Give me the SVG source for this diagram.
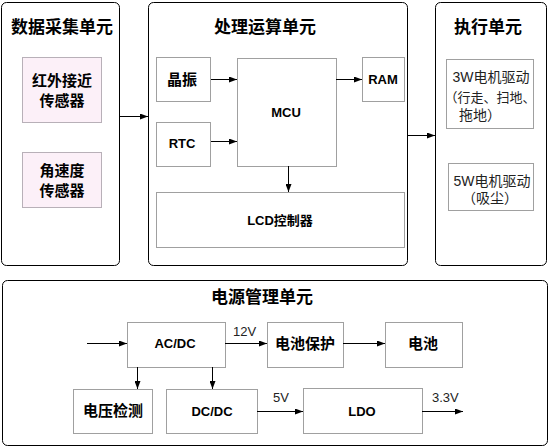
<svg xmlns="http://www.w3.org/2000/svg" width="549" height="448" viewBox="0 0 549 448">
<defs>
<marker id="ah" markerWidth="8" markerHeight="6" refX="8" refY="3" orient="auto" markerUnits="userSpaceOnUse">
<path d="M0,0 L8,3 L0,6 Z" fill="#000"/>
</marker>
<style>
.panel{fill:#fff;stroke:#000;stroke-width:1}
.box{fill:#fff;stroke:#a0a0a0;stroke-width:1}
.pink{fill:#fcf0f8;stroke:#b8b0b8;stroke-width:1}
.title{font-family:"Liberation Sans","Noto Sans CJK SC",sans-serif;font-size:17px;font-weight:bold;fill:#000;text-anchor:middle}
.lbl{font-family:"Liberation Sans","Noto Sans CJK SC",sans-serif;font-size:15px;font-weight:bold;fill:#000;text-anchor:middle}
.lbs{font-family:"Liberation Sans","Noto Sans CJK SC",sans-serif;font-size:13px;font-weight:bold;fill:#000;text-anchor:middle}
.nt{font-family:"Liberation Sans","Noto Sans CJK SC",sans-serif;font-size:14px;fill:#222;text-anchor:middle}
.vl{font-family:"Liberation Sans",sans-serif;font-size:13px;fill:#222}
.c{stroke:#000;stroke-width:1;fill:none;marker-end:url(#ah)}
</style>
</defs>
<rect width="549" height="448" fill="#fff"/>

<g id="panel-data">
<rect class="panel" x="1.5" y="2.5" width="118" height="263" rx="5"/>
<text class="title" x="62" y="33">数据采集单元</text>
</g>
<g id="ir-sensor">
<rect class="pink" x="22.5" y="57.5" width="79" height="65"/>
<text class="lbl" x="62" y="86">红外接近</text>
<text class="lbl" x="62" y="106">传感器</text>
</g>
<g id="gyro-sensor">
<rect class="pink" x="22.5" y="152.5" width="79" height="55"/>
<text class="lbl" x="62" y="176">角速度</text>
<text class="lbl" x="62" y="196">传感器</text>
</g>

<g id="panel-proc">
<rect class="panel" x="148.5" y="2.5" width="259" height="263" rx="5"/>
<text class="title" x="265" y="33">处理运算单元</text>
</g>
<g id="crystal">
<rect class="box" x="156.5" y="57.5" width="54" height="44"/>
<text class="lbl" x="182" y="85">晶振</text>
</g>
<g id="rtc">
<rect class="box" x="156.5" y="122.5" width="54" height="44"/>
<text class="lbs" x="182" y="148">RTC</text>
</g>
<g id="mcu">
<rect class="box" x="237.5" y="58.5" width="99" height="108"/>
<text class="lbs" x="286" y="117">MCU</text>
</g>
<g id="ram">
<rect class="box" x="362.5" y="57.5" width="42" height="44"/>
<text class="lbs" x="383" y="84">RAM</text>
</g>
<g id="lcd">
<rect class="box" x="156.5" y="192.5" width="248" height="55"/>
<text class="lbs" x="280" y="225">LCD控制器</text>
</g>

<g id="panel-exec">
<rect class="panel" x="435.5" y="2.5" width="111" height="263" rx="5"/>
<text class="title" x="488" y="33">执行单元</text>
</g>
<g id="motor3w">
<rect class="box" x="446.5" y="59.5" width="87" height="69"/>
<text class="nt" x="491" y="82">3W电机驱动</text>
<text class="nt" x="490" y="102" style="font-size:13px">（行走、扫地、</text>
<text class="nt" x="480" y="120">拖地）</text>
</g>
<g id="motor5w">
<rect class="box" x="448.5" y="163.5" width="85" height="47"/>
<text class="nt" x="492" y="186">5W电机驱动</text>
<text class="nt" x="490" y="203">（吸尘）</text>
</g>

<g id="panel-power">
<rect class="panel" x="2.5" y="280.5" width="545" height="165" rx="5"/>
<text class="title" x="262" y="303">电源管理单元</text>
</g>
<g id="acdc">
<rect class="box" x="127.5" y="322.5" width="98" height="45"/>
<text class="lbs" x="175" y="348">AC/DC</text>
</g>
<g id="batprot">
<rect class="box" x="267.5" y="322.5" width="76" height="45"/>
<text class="lbl" x="305" y="349">电池保护</text>
</g>
<g id="battery">
<rect class="box" x="385.5" y="322.5" width="77" height="45"/>
<text class="lbl" x="423" y="349">电池</text>
</g>
<g id="vdetect">
<rect class="box" x="73.5" y="389.5" width="79" height="44"/>
<text class="lbl" x="113" y="416">电压检测</text>
</g>
<g id="dcdc">
<rect class="box" x="166.5" y="389.5" width="91" height="44"/>
<text class="lbs" x="212" y="416">DC/DC</text>
</g>
<g id="ldo">
<rect class="box" x="303.5" y="388.5" width="119" height="45"/>
<text class="lbs" x="362" y="416">LDO</text>
</g>

<g id="connectors">
<line class="c" x1="120" y1="116.5" x2="148" y2="116.5"/>
<line class="c" x1="408" y1="135.5" x2="435" y2="135.5"/>
<line class="c" x1="211" y1="79.5" x2="237" y2="79.5"/>
<line class="c" x1="211" y1="141.5" x2="237" y2="141.5"/>
<line class="c" x1="336" y1="79.5" x2="362" y2="79.5"/>
<line class="c" x1="288.5" y1="166" x2="288.5" y2="192"/>
<line class="c" x1="87" y1="343.5" x2="127" y2="343.5"/>
<line class="c" x1="225" y1="343.5" x2="267" y2="343.5"/>
<line class="c" x1="343" y1="343.5" x2="385" y2="343.5"/>
<line class="c" x1="137.5" y1="367" x2="137.5" y2="389"/>
<line class="c" x1="212.5" y1="367" x2="212.5" y2="389"/>
<line class="c" x1="257" y1="411.5" x2="303" y2="411.5"/>
<line class="c" x1="422" y1="411.5" x2="463" y2="411.5"/>
<text class="vl" x="233" y="336">12V</text>
<text class="vl" x="273" y="402">5V</text>
<text class="vl" x="432" y="402">3.3V</text>
</g>
</svg>
